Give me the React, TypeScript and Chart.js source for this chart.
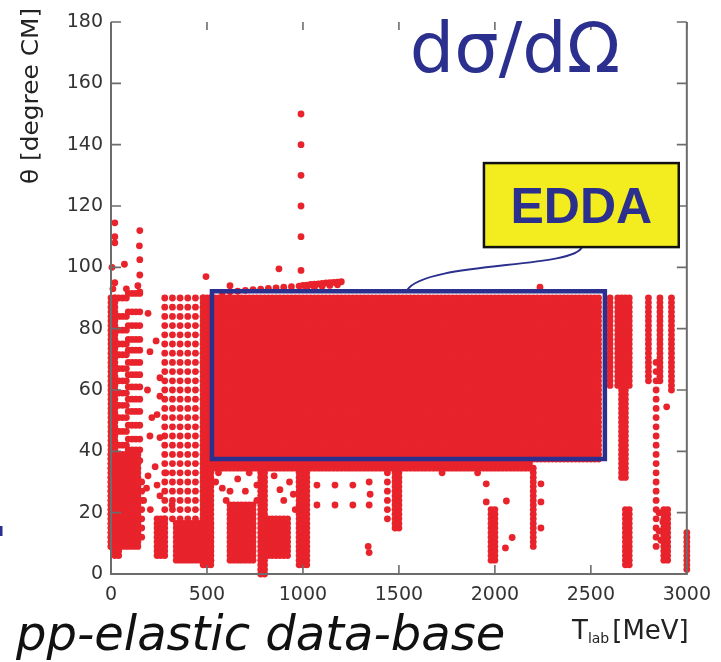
import { useEffect, useRef } from 'react';
import { Chart, registerables } from 'chart.js';

Chart.register(...registerables);

// ---- axis ticks ----
const xTicks = [0, 500, 1000, 1500, 2000, 2500, 3000];
const yTicks = [0, 20, 40, 60, 80, 100, 120, 140, 160, 180];

// ---- measurement grids of the pp-elastic database ----
// beam energies T_lab (MeV)
const fineEnergies = [
  0, 20, 40, 60, 80, 100, 120, 140, 160, 180, 200, 220, 240, 260, 280, 300, 320, 340, 360, 380,
  400, 420, 440, 460, 480, 500, 520, 540, 560, 580, 600, 620, 640, 660, 680, 700, 720, 740, 760, 780,
  800, 820, 840, 860, 880, 900, 920, 940, 960, 980, 1000, 1020, 1040, 1060, 1080, 1100, 1120, 1140, 1160, 1180,
  1200, 1220, 1240, 1260, 1280, 1300, 1320, 1340, 1360, 1380, 1400, 1420, 1440, 1460, 1480, 1500, 1520, 1540, 1560, 1580,
  1600, 1620, 1640, 1660, 1680, 1700, 1720, 1740, 1760, 1780, 1800, 1820, 1840, 1860, 1880, 1900, 1920, 1940, 1960, 1980,
  2000, 2020, 2040, 2060, 2080, 2100, 2120, 2140, 2160, 2180, 2200, 2220, 2240, 2260, 2280, 2300, 2320, 2340, 2360, 2380,
  2400, 2420, 2440, 2460, 2480, 2500, 2520, 2540, 2560, 2580, 2600, 2620, 2640, 2660, 2680, 2700, 2720, 2740, 2760, 2780,
  2800, 2820, 2840, 2860, 2880, 2900, 2920, 2940, 2960, 2980, 3000,
];
const coarseEnergies = [0, 40, 80, 120, 160, 200, 240, 280, 320, 360, 400, 440, 480];
// CM angles θ (deg)
const fineAngles = [
  0, 1.5, 3, 4.5, 6, 7.5, 9, 10.5, 12, 13.5, 15, 16.5, 18, 19.5, 21, 22.5, 24, 25.5, 27, 28.5,
  30, 31.5, 33, 34.5, 36, 37.5, 39, 40.5, 42, 43.5, 45, 46.5, 48, 49.5, 51, 52.5, 54, 55.5, 57, 58.5,
  60, 61.5, 63, 64.5, 66, 67.5, 69, 70.5, 72, 73.5, 75, 76.5, 78, 79.5, 81, 82.5, 84, 85.5, 87, 88.5, 90,
];
const coarseAngles = [
  0, 3, 6, 9, 12, 15, 18, 21, 24, 27, 30, 33, 36, 39, 42, 45, 48, 51, 54, 57,
  60, 63, 66, 69, 72, 75, 78, 81, 84, 87, 90,
];

// covered regions: [T from, T to, θ from, θ to, grid]  f = fine, c = coarse, d = dotted column
const coveredRegions: [number, number, number, number, string][] = [
  [520, 2540, 37.5, 90, 'f'],
  [520, 2180, 34.5, 37.5, 'f'],
  [480, 520, 39, 90, 'f'],
  [0, 20, 9, 90, 'f'],
  [0, 140, 9, 39, 'f'],
  [20, 40, 6, 9, 'f'],
  [340, 520, 4.5, 16.5, 'f'],
  [240, 280, 6, 18, 'f'],
  [480, 520, 3, 37.5, 'f'],
  [620, 740, 4.5, 22.5, 'f'],
  [780, 800, 0, 37.5, 'f'],
  [820, 920, 6, 18, 'f'],
  [980, 1020, 3, 33, 'f'],
  [1480, 1500, 15, 34.5, 'f'],
  [1980, 2000, 4.5, 21, 'f'],
  [2200, 2200, 9, 34.5, 'f'],
  [2600, 2600, 61.5, 90, 'f'],
  [2640, 2700, 61.5, 90, 'f'],
  [2660, 2680, 31.5, 61.5, 'f'],
  [2680, 2700, 3, 21, 'f'],
  [2800, 2800, 63, 90, 'f'],
  [2860, 2860, 63, 90, 'f'],
  [2920, 2920, 60, 90, 'f'],
  [2880, 2900, 4.5, 21, 'f'],
  [3000, 3000, 1.5, 13.5, 'f'],
  [280, 480, 18, 90, 'c'],
  [120, 160, 12, 30, 'c'],
  [2840, 2840, 9, 70, 'd'],
  [1440, 1440, 18, 33, 'd'],
];

// slanted streaks at low energy: θ at the low-energy half and at the high-energy half
const streakLowAngles = [90, 84, 79.5, 75, 71.5, 67, 63, 59, 55, 51, 46.5, 42, 38.5];
const streakHighAngles = [91.5, 85.5, 81, 76.5, 73, 69, 65, 61, 57, 53, 48.5, 44, 40.5];
const streakLowEnergies = [20, 40, 60, 80];
const streakHighEnergies = [90, 110, 130, 150];

// isolated measurements [T_lab, θ]
const isolatedPoints: [number, number][] = [
  [990, 150], [990, 140], [990, 130], [990, 120], [990, 110], [990, 99], [875, 99.5], [495, 97], [620, 94], [2235, 93.5],
  [20, 114.5], [20, 110], [20, 108], [5, 100], [70, 101], [150, 112], [148, 107], [150, 102.5], [150, 97.5], [140, 94],
  [150, 92], [20, 95], [10, 93], [80, 93],
  [580, 91.8], [620, 92], [660, 92.2], [700, 92.5], [740, 92.7], [780, 92.9], [820, 93.1], [860, 93.3], [900, 93.5],
  [940, 93.7], [980, 93.9], [1000, 94.1], [1020, 94.2], [1040, 94.4], [1060, 94.5], [1080, 94.6], [1100, 94.8],
  [1120, 94.9], [1140, 95], [1160, 95.1], [1180, 95.2], [1200, 95.3], [1020, 93.2], [1060, 93.5], [1100, 93.8],
  [1140, 94.1], [1180, 94.3],
  [193, 85], [203, 72.5], [255, 64], [213, 51], [255, 58], [255, 44.5], [203, 45], [235, 76], [190, 60], [240, 52],
  [193, 32], [240, 29], [255, 25.5], [318, 22.5], [286, 33], [185, 28], [150, 37], [205, 21], [230, 35], [170, 24],
  [560, 33], [580, 28], [600, 24], [545, 30], [620, 27], [660, 31], [700, 27], [720, 33], [760, 29], [760, 24],
  [850, 32], [880, 27.5], [900, 24], [930, 30], [950, 26], [960, 21], [1073, 29], [1167, 29], [1260, 29],
  [1073, 22.5], [1167, 22.5], [1260, 22.5], [1345, 30], [1350, 26], [1345, 22.5], [1340, 9], [1345, 7],
  [1725, 33], [1910, 33], [1955, 29.4], [1955, 23.5], [2060, 23.8], [2090, 11.9], [2055, 8.5],
  [2240, 29.4], [2240, 23.5], [2240, 15],
  [2895, 54.5], [2855, 20], [2855, 14], [2865, 11], [2875, 17], [2880, 13],
];

// annotation anchors (data units)
const eddaFrame = { t0: 526, t1: 2573, a0: 37.5, a1: 92.2 };
const eddaLabelBox = { t0: 1943, t1: 2958, a0: 106.6, a1: 134 };

function buildPoints() {
  const pts: { x: number; y: number }[] = [];
  for (const [e0, e1, a0, a1, g] of coveredRegions) {
    const es = g === 'c' ? coarseEnergies : fineEnergies;
    const as = g === 'f' ? fineAngles : coarseAngles;
    for (const e of es) {
      if (e < e0 || e > e1) continue;
      for (const a of as) if (a >= a0 && a <= a1) pts.push({ x: e, y: a });
    }
  }
  streakLowAngles.forEach((a) => streakLowEnergies.forEach((e) => pts.push({ x: e, y: a })));
  streakHighAngles.forEach((a) => streakHighEnergies.forEach((e) => pts.push({ x: e, y: a })));
  for (const [e, a] of isolatedPoints) pts.push({ x: e, y: a });
  return pts;
}

const BLUE = '#2b2f8e';

const overlayPlugin = {
  id: 'overlay',
  afterDatasetsDraw(chart: any) {
    const { ctx, chartArea: a, scales } = chart;
    const X = (v: number) => scales.x.getPixelForValue(v);
    const Y = (v: number) => scales.y.getPixelForValue(v);
    ctx.save();
    // frame (left, bottom, right)
    ctx.strokeStyle = '#6c6c6c';
    ctx.lineWidth = 2;
    ctx.beginPath();
    ctx.moveTo(a.left, a.top);
    ctx.lineTo(a.left, a.bottom);
    ctx.lineTo(a.right, a.bottom);
    ctx.lineTo(a.right, a.top);
    ctx.stroke();
    ctx.lineWidth = 1.6;
    ctx.beginPath();
    for (const v of yTicks) {
      const py = Y(v);
      ctx.moveTo(a.left, py); ctx.lineTo(a.left + 10, py);
      ctx.moveTo(a.right, py); ctx.lineTo(a.right - 10, py);
    }
    for (const v of xTicks) {
      const px = X(v);
      ctx.moveTo(px, a.bottom); ctx.lineTo(px, a.bottom - 9);
      ctx.moveTo(px, a.top); ctx.lineTo(px, a.top + 8);
    }
    ctx.stroke();

    // EDDA frame
    ctx.strokeStyle = BLUE;
    ctx.lineWidth = 4.5;
    ctx.strokeRect(X(eddaFrame.t0), Y(eddaFrame.a1), X(eddaFrame.t1) - X(eddaFrame.t0), Y(eddaFrame.a0) - Y(eddaFrame.a1));

    // connector
    const bx0 = X(eddaLabelBox.t0), bx1 = X(eddaLabelBox.t1), by0 = Y(eddaLabelBox.a1), by1 = Y(eddaLabelBox.a0);
    ctx.lineWidth = 2;
    ctx.beginPath();
    ctx.moveTo(X(2453), by1);
    ctx.bezierCurveTo(X(2410), Y(99.5), X(1640), Y(102), X(1542), Y(eddaFrame.a1) - 1);
    ctx.stroke();

    // yellow label box
    ctx.fillStyle = '#f3ec1e';
    ctx.fillRect(bx0, by0, bx1 - bx0, by1 - by0);
    ctx.strokeStyle = '#111';
    ctx.lineWidth = 2.5;
    ctx.strokeRect(bx0, by0, bx1 - bx0, by1 - by0);
    ctx.fillStyle = BLUE;
    ctx.font = 'bold 50px "Liberation Sans", Arial, sans-serif';
    ctx.textAlign = 'center';
    ctx.textBaseline = 'alphabetic';
    ctx.fillText('EDDA', (bx0 + bx1) / 2, Y(114.4));

    // dσ/dΩ
    ctx.textAlign = 'left';
    ctx.font = '70px "DejaVu Sans", sans-serif';
    ctx.fillText('dσ/dΩ', X(1557), Y(163.7));

    // y title
    ctx.save();
    ctx.fillStyle = '#222';
    ctx.translate(38, 96);
    ctx.rotate(-Math.PI / 2);
    ctx.scale(1.08, 1);
    ctx.font = '23px "DejaVu Sans", sans-serif';
    ctx.textAlign = 'center';
    ctx.fillText('θ [degree CM]', 0, 0);
    ctx.restore();

    // x title  T_lab [MeV]
    ctx.fillStyle = '#222';
    ctx.textAlign = 'left';
    ctx.font = '26px "DejaVu Sans", sans-serif';
    let tx = 572;
    ctx.fillText('T', tx, 639);
    tx += ctx.measureText('T').width;
    ctx.font = '14px "DejaVu Sans", sans-serif';
    ctx.fillText('lab', tx, 643);
    tx += ctx.measureText('lab').width + 3;
    ctx.font = '26px "DejaVu Sans", sans-serif';
    ctx.fillText('[MeV]', tx, 639);

    // caption
    ctx.fillStyle = '#111';
    ctx.font = 'italic 48px "DejaVu Sans", sans-serif';
    ctx.fillText('pp-elastic data-base', 16, 650);

    // small blue mark at left edge
    ctx.fillStyle = BLUE;
    ctx.fillRect(0, 526, 2.5, 10);
    ctx.restore();
  },
};

export default function App() {
  const ref = useRef<HTMLCanvasElement | null>(null);
  useEffect(() => {
    if (!ref.current) return;
    const chart = new Chart(ref.current, {
      type: 'scatter',
      data: {
        datasets: [
          {
            data: buildPoints(),
            backgroundColor: '#e8232b',
            pointBackgroundColor: '#e8232b',
            pointBorderWidth: 0,
            pointRadius: 3.4,
            pointHoverRadius: 3.4,
            clip: false,
          } as any,
        ],
      },
      options: {
        animation: false,
        responsive: true,
        maintainAspectRatio: false,
        events: [],
        layout: { padding: { left: 0, right: 34, top: 22, bottom: 0 } },
        plugins: { legend: { display: false }, tooltip: { enabled: false } },
        scales: {
          x: {
            type: 'linear',
            min: 0,
            max: 3000,
            grid: { display: false, drawTicks: false },
            border: { display: false },
            afterBuildTicks: (s: any) => { s.ticks = xTicks.map((v) => ({ value: v })); },
            ticks: {
              color: '#333',
              font: { family: '"DejaVu Sans", sans-serif', size: 19 },
              padding: 10,
              maxRotation: 0,
              autoSkip: false,
              callback: (v: any) => String(v),
            },
            afterFit: (s: any) => { s.height = 88; },
          },
          y: {
            type: 'linear',
            min: 0,
            max: 180,
            grid: { display: false, drawTicks: false },
            border: { display: false },
            afterBuildTicks: (s: any) => { s.ticks = yTicks.map((v) => ({ value: v })); },
            ticks: {
              color: '#333',
              font: { family: '"DejaVu Sans", sans-serif', size: 19 },
              padding: 8,
              autoSkip: false,
              callback: (v: any) => String(v),
            },
            afterFit: (s: any) => { s.width = 111; },
          },
        },
      } as any,
      plugins: [overlayPlugin],
    });
    return () => chart.destroy();
  }, []);
  return (
    <div style={{ position: 'fixed', left: 0, top: 0, width: 721, height: 662, background: '#fff' }}>
      <canvas ref={ref} />
    </div>
  );
}
